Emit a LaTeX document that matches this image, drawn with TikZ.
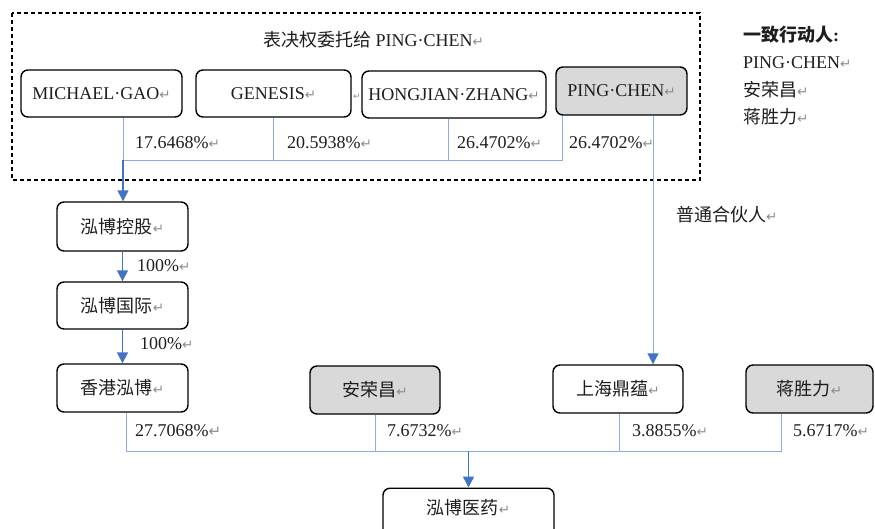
\documentclass[tikz,border=0pt]{standalone}
\usepackage{fontspec}
\setmainfont{Liberation Serif}
\newfontfamily\cjk{Noto Sans CJK SC}
\newfontfamily\symf{DejaVu Sans}
\usetikzlibrary{arrows.meta}
\definecolor{lineblue}{HTML}{8FAADC}
\definecolor{arrowblue}{HTML}{4472C4}
\definecolor{boxgray}{HTML}{D9D9D9}
\definecolor{markgray}{HTML}{8C8C8C}
\definecolor{txt}{HTML}{1E1E1E}
\newcommand{\pmk}{{\symf\fontsize{13.5}{13.5}\selectfont\color{markgray}↵}}
\newcommand{\zh}[1]{{\cjk #1}}
\tikzset{
  box/.style={draw=black, line width=1.4pt, rounded corners=7pt, inner sep=0pt,
    font=\fontsize{18}{20}\selectfont, text=txt},
  graybox/.style={box, fill=boxgray},
  lbl/.style={inner sep=0pt, anchor=west, font=\fontsize{18}{20}\selectfont, text=txt},
  thinl/.style={draw=lineblue, line width=1pt},
  arrl/.style={draw=arrowblue, line width=1.5pt, -{Triangle[width=11pt,length=11pt]}},
  thinarr/.style={draw=lineblue, line width=1pt, -{Triangle[width=11pt,length=11pt,color=arrowblue]}},
  dashbox/.style={draw=black, line width=1.3pt, dash pattern=on 4pt off 3pt}
}
\begin{document}
\begin{tikzpicture}[x=1pt,y=-1pt]
\useasboundingbox (0,0) rectangle (875,528);
% dashed group
\draw[dashbox] (12,13) rectangle (700,180);
\node[lbl] (title) at (263,40) {\zh{表决权委托给} PING·CHEN\pmk};
% top boxes
\node[box, minimum width=161pt, minimum height=47pt] (mg) at (101.5,93.5) {MICHAEL·GAO\pmk};
\node[box, minimum width=155pt, minimum height=47pt] (ge) at (273.5,93.5) {GENESIS\pmk};
\node[box, minimum width=184pt, minimum height=47pt] (hz) at (454,94.5) {HONGJIAN·ZHANG\pmk};
\node[graybox, minimum width=131pt, minimum height=48pt] (pc) at (621.5,91) {PING·CHEN\pmk};
\node[inner sep=0pt] (pm1) at (357,97) {{\symf\fontsize{9}{9}\selectfont\color{markgray}↵}};
% right legend
\node[lbl] (leg0) at (743,35) {\zh{\bfseries 一致行动人}\textbf{:}};
\node[lbl] (leg1) at (743,63) {PING·CHEN\pmk};
\node[lbl] (leg2) at (743,90) {\zh{安荣昌}\pmk};
\node[lbl] (leg3) at (743,117) {\zh{蒋胜力}\pmk};
% chain boxes
\node[box, minimum width=131pt, minimum height=49pt] (hk) at (122.5,226.5) {\zh{泓博控股}\pmk};
\node[box, minimum width=131pt, minimum height=47pt] (hi) at (122.5,305.5) {\zh{泓博国际}\pmk};
\node[box, minimum width=131pt, minimum height=48pt] (hb) at (122.5,388) {\zh{香港泓博}\pmk};
\node[graybox, minimum width=130pt, minimum height=48pt] (arc) at (375,390) {\zh{安荣昌}\pmk};
\node[box, minimum width=130pt, minimum height=48pt] (sd) at (618,389) {\zh{上海鼎蕴}\pmk};
\node[graybox, minimum width=127pt, minimum height=48pt] (jsl) at (809.5,389) {\zh{蒋胜力}\pmk};
\node[box, minimum width=171pt, minimum height=48pt, anchor=north] (yy) at (468.5,487.5) {};
\node[inner sep=0pt, font=\fontsize{18}{20}\selectfont, text=txt] (yyt) at (468.5,508) {\zh{泓博医药}\pmk};
% percent labels
\node[lbl] (p1) at (135,142.5) {17.6468\%\pmk};
\node[lbl] (p2) at (287,142.5) {20.5938\%\pmk};
\node[lbl] (p3) at (457,142.5) {26.4702\%\pmk};
\node[lbl] (p4) at (569,142.5) {26.4702\%\pmk};
\node[lbl] (c1) at (137,266) {100\%\pmk};
\node[lbl] (c2) at (140,344) {100\%\pmk};
\node[lbl] (q1) at (135,431) {27.7068\%{\symf\fontsize{15}{15}\selectfont\color{markgray}↵}};
\node[lbl] (q2) at (387,431) {7.6732\%\pmk};
\node[lbl] (q3) at (632,431) {3.8855\%\pmk};
\node[lbl] (q4) at (793,431) {5.6717\%\pmk};
\node[lbl] (gp) at (676,215) {\zh{普通合伙人}\pmk};
% top connectors
\coordinate (hj1) at (123,160);
\coordinate (hj2) at (562,160);
\coordinate (xhz) at (448,160);
\coordinate (xpc) at (653,160);
\draw[thinl] (mg.south -| hj1) -- (hj1) -- (hj2) -- (pc.south -| hj2);
\draw[thinl] (ge.south) -- (ge.south |- hj1);
\draw[thinl] (hz.south -| xhz) -- (xhz);
\draw[thinarr] (pc.south -| xpc) -- (sd.north -| xpc);
\draw[arrl] (hj1) -- (hk.north -| hj1);
\draw[arrl] (hk.south) -- (hi.north);
\draw[arrl] (hi.south) -- (hb.north);
% bottom connectors
\coordinate (b1) at (126,451);
\coordinate (b2) at (375,451);
\coordinate (b3) at (619,451);
\coordinate (b4) at (781,451);
\draw[thinl] (hb.south -| b1) -- (b1) -- (b4) -- (jsl.south -| b4);
\draw[thinl] (arc.south) -- (arc.south |- b2);
\draw[thinl] (sd.south -| b3) -- (b3);
\draw[arrl] (yy.north |- b1) -- (yy.north);
\end{tikzpicture}
\end{document}
